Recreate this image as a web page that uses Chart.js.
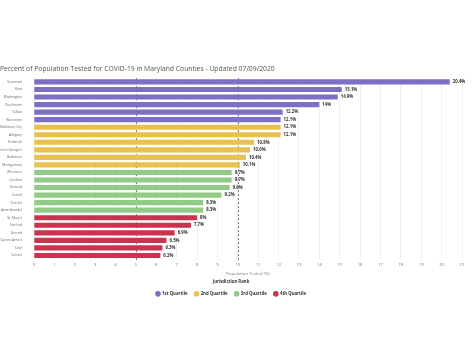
<!DOCTYPE html>
<html><head><meta charset="utf-8">
<script src="https://cdn.jsdelivr.net/npm/chart.js@4"></script>
<style>html,body{margin:0;padding:0;background:#fff}#wrap{width:474px;height:355px}</style>
</head><body><div id="wrap"><canvas id="c" width="474" height="355"></canvas></div>
<script>
const counties = ["Somerset","Kent","Washington","Dorchester","Talbot","Worcester","Baltimore City","Allegany","Frederick","Prince George's","Baltimore","Montgomery","Wicomico","Caroline","Howard","Carroll","Charles","Anne Arundel","St. Mary's","Harford","Garrett","Queen Anne's","Cecil","Calvert"];
const pctTested = [20.4,15.1,14.9,14.0,12.2,12.1,12.1,12.1,10.8,10.6,10.4,10.1,9.7,9.7,9.6,9.2,8.3,8.3,8.0,7.7,6.9,6.5,6.3,6.2];
const quartile = [1,1,1,1,1,1,2,2,2,2,2,2,3,3,3,3,3,3,4,4,4,4,4,4];
const quartileNames = ["1st Quartile","2nd Quartile","3rd Quartile","4th Quartile"];
const quartileColors = ["#7b6fc6","#e8c14e","#92cb85","#c9344f"];
const refLines = [5,10];
const FONT = "'Open Sans', 'Liberation Sans', sans-serif";

const valueLabels = {
  id:'valueLabels',
  afterDatasetsDraw(chart){
    const ctx = chart.ctx; const meta = chart.getDatasetMeta(0);
    ctx.save();
    ctx.font = "bold 4.3px " + FONT; ctx.fillStyle = "#333"; ctx.textBaseline='middle';
    meta.data.forEach((bar,i)=>{
      ctx.fillText(pctTested[i].toFixed(1).replace(/\.0$/, '') + '%', bar.x + 3, bar.y);
    });
    ctx.restore();
  }
};
const dashed = {
  id:'dashed',
  beforeDatasetsDraw(chart){
    const ctx = chart.ctx, x = chart.scales.x, a = chart.chartArea;
    ctx.save(); ctx.strokeStyle = "#555"; ctx.lineWidth = 0.8; ctx.setLineDash([2,2]);
    refLines.forEach(v=>{ const px = Math.round(x.getPixelForValue(v))+0.5; ctx.beginPath(); ctx.moveTo(px,a.top); ctx.lineTo(px,a.bottom+3); ctx.stroke(); });
    ctx.restore();
  }
};

new Chart(document.getElementById('c'), {
  type:'bar',
  data:{ labels: counties, datasets:[{ data: pctTested, backgroundColor: quartile.map(q=>quartileColors[q-1]), categoryPercentage:1, barPercentage:0.68 }]},
  options:{
    indexAxis:'y', responsive:false, animation:false, devicePixelRatio:1,
    layout:{ padding:{ top:65, right:12, bottom:49, left:0 } },
    scales:{
      x:{ min:0, max:21, ticks:{ stepSize:1, color:'#777', font:{family:FONT,size:4.3}, padding:3 },
          grid:{ color:'#e8e8e8', lineWidth:0.6, drawTicks:false }, border:{ display:false },
          title:{ display:true, text:'Population Tested (%)', color:'#777', font:{family:FONT,size:4.3}, padding:{top:1,bottom:0} } },
      y:{ ticks:{ color:'#666', font:{family:FONT,size:3.3}, padding:4, autoSkip:false }, grid:{ display:false }, border:{ display:false },
          afterFit(s){ s.width = 34; } }
    },
    plugins:{
      title:{ display:true, text:'Percent of Population Tested for COVID-19 in Maryland Counties - Updated 07/09/2020', align:'start', color:'#555', font:{family:FONT,size:6.8,weight:'normal'}, padding:{top:0,bottom:5} },
      legend:{ position:'bottom', title:{ display:true, text:'Jurisdiction Rank', color:'#333', font:{family:FONT,size:4.3,weight:'bold'}, padding:{top:3,bottom:0} },
        labels:{ usePointStyle:true, pointStyle:'circle', boxWidth:4, boxHeight:4, padding:7, color:'#333', font:{family:FONT,size:4.3,weight:'bold'},
          generateLabels(){ return quartileNames.map((n,i)=>({ text:n, fillStyle:quartileColors[i], strokeStyle:quartileColors[i], lineWidth:0, pointStyle:'circle', hidden:false })); } } },
      tooltip:{ enabled:false }
    }
  },
  plugins:[dashed, valueLabels]
});
</script></body></html>
